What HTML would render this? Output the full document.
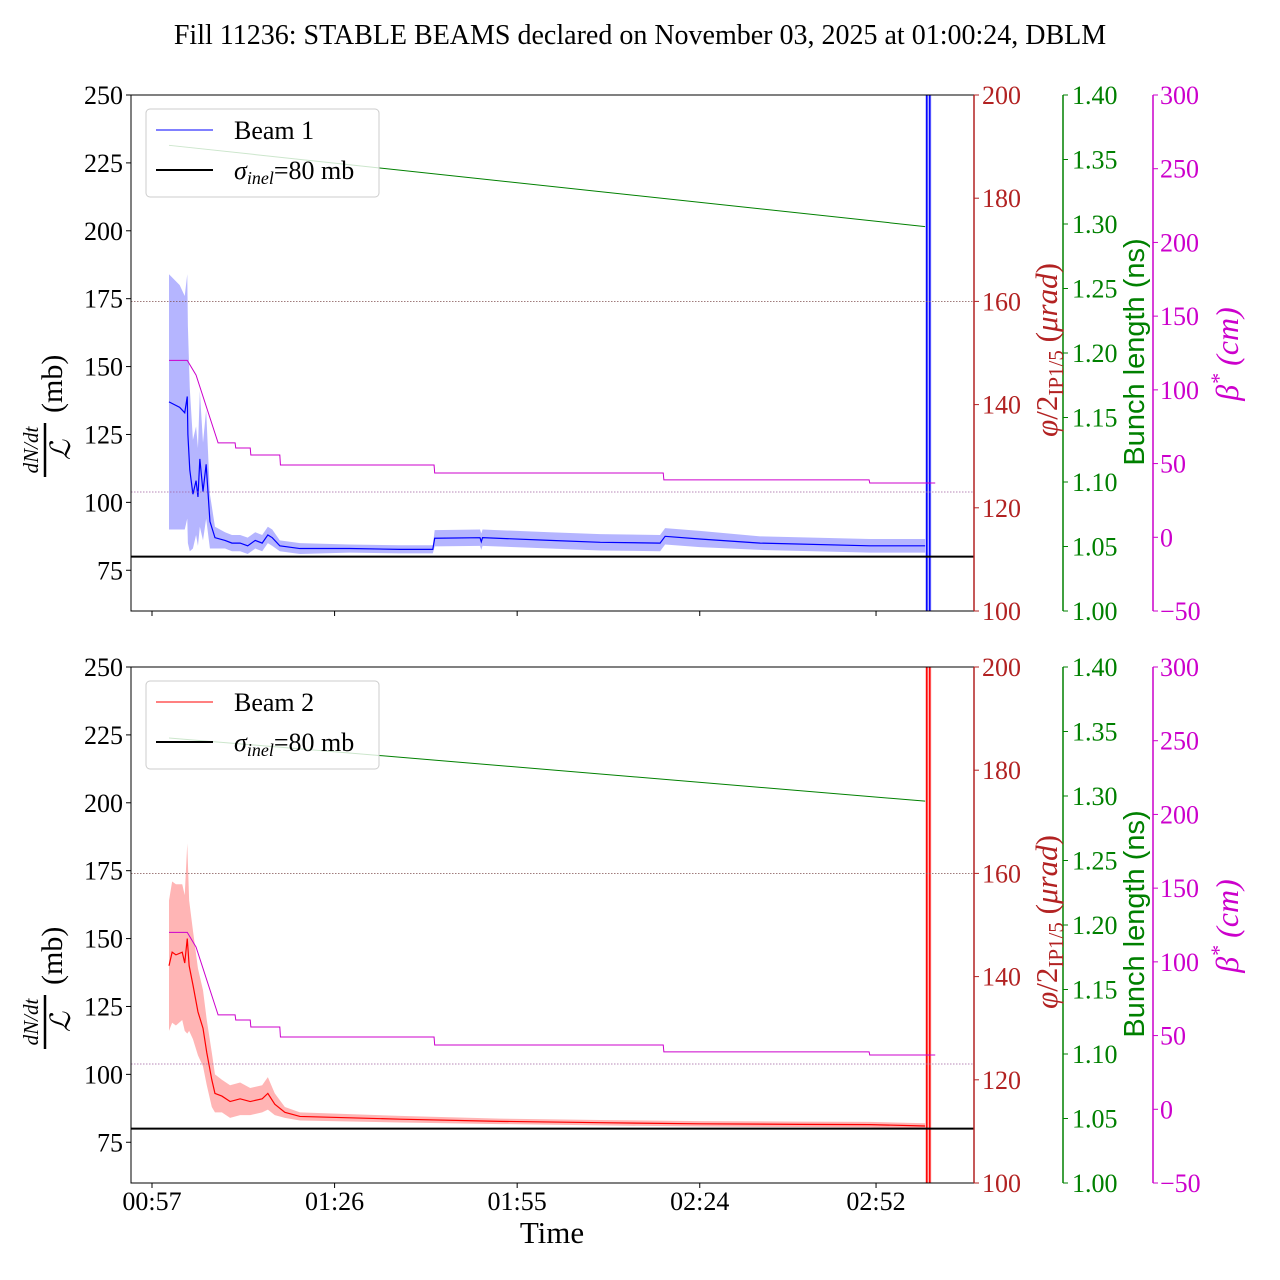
<!DOCTYPE html>
<html><head><meta charset="utf-8">
<style>
body{margin:0;background:#fff;}
svg{display:block;font-family:"Liberation Serif",serif;}
</style></head>
<body>
<svg id="chart" width="1280" height="1280" viewBox="0 0 1280 1280">
<text x="640" y="44" text-anchor="middle" font-size="28">Fill 11236: STABLE BEAMS declared on November 03, 2025 at 01:00:24, DBLM</text>
</svg>
<script>
// time in minutes since 00:00
const tickLabels = ["00:57","01:26","01:55","02:24","02:52"];
const tickTimes = [57,86,115,144,172];
const leftTicks = [75,100,125,150,175,200,225,250];
const redTicks = [100,120,140,160,180,200];
const greenTicks = [1.00,1.05,1.10,1.15,1.20,1.25,1.30,1.35,1.40];
const magTicks = [-50,0,50,100,150,200,250,300];

const b1Times = [59.7,61.4,62.2,62.6,62.7,63.0,63.5,64.0,64.3,64.6,65.1,65.6,66.2,67.0,68.6,69.7,71.0,72.2,73.4,74.5,75.4,76.1,77.3,80.5,88.4,96.4,101.6,101.9,109.1,109.3,109.5,120.2,128.2,137.7,138.5,144.0,153.6,171.0,179.8];
const b1Vals  = [137,135,133,139,125,112,103,108,102,116,104,114,93,87,86,85,85,84,86,85,88,87,84,83,83,82.7,82.7,86.8,87,85.5,87,86,85.3,85,87.5,86.5,85,84,84];
const b1Err   = [47,45,43,45,40,30,20,20,18,25,18,20,10,4,3,3,3,3,3,3,3,3,2,2,1.5,1.5,1.5,3,3,3,3,3,3,3,3,3,2.5,2.5,2.5];
const b2Times = [59.7,60.2,60.8,61.8,62.2,62.6,62.9,63.5,64.3,65.1,65.7,66.5,67.0,68.1,69.4,71.0,72.6,74.5,75.4,76.5,78.1,80.5,96.4,112.3,128.2,144.0,159.9,171.0,179.8];
const b2Vals  = [140,145,144,145,141,150,140,133,123,117,108,98,93,92,90,91,90,91,93,89,86,84.5,83.5,82.7,82.2,81.8,81.6,81.5,81];
const b2Err   = [24,26,26,25,25,35,24,20,16,14,12,10,7,6,6,6,5,5,6,4,2,1.5,1.2,1,1,1,1,1,1];
const bunchT1 = [59.7,179.8]; const bunchV1=[1.361,1.298];
const bunchT2 = [59.7,179.8]; const bunchV2=[1.345,1.296];
const betaTimes = [59.7,62.6,64.0,67.5,67.6,70.2,70.3,72.6,72.7,77.3,77.4,101.8,101.9,138.2,138.3,170.9,171.0,181.4];
const betaVals  = [120,120,110,64,64,64,60.6,60.6,55.8,55.8,49,49,43.6,43.6,38.9,38.9,36.8,36.8];
const spikeTime = 180.3;

const NS="http://www.w3.org/2000/svg";
const svg=document.getElementById('chart');
const X0=131,X1=974;
const xs=t=>152+(t-57)*6.296;
function el(tag,attrs,parent){const e=document.createElementNS(NS,tag);for(const k in attrs)e.setAttribute(k,attrs[k]);(parent||svg).appendChild(e);return e;}

function panel(top,beam){
  const bot=top+516;
  const g=el('g',{});
  
  
  const yl=v=>bot-(v-60)*516/190;
  const yr=v=>bot-(v-100)*5.16;
  const yg=v=>bot-(v-1.0)*1290;
  const ym=v=>bot-(v+50)*516/350;
  const color=beam==1?'#0000ff':'#ff0000';
  const fill=beam==1?'rgba(60,60,255,0.38)':'rgba(255,60,60,0.38)';
  const times=beam==1?b1Times:b2Times, vals=beam==1?b1Vals:b2Vals, err=beam==1?b1Err:b2Err;
  let d='';times.forEach((t,i)=>{d+=(i?'L':'M')+xs(t)+','+yl(vals[i]+err[i]);});
  for(let i=times.length-1;i>=0;i--)d+='L'+xs(times[i])+','+yl(vals[i]-err[i]);
  const band=el('path',{d:d+'Z',fill:fill,stroke:'none'},g);
  
  
  const line=el('polyline',{points:times.map((t,i)=>xs(t)+','+yl(vals[i])).join(' '),fill:'none',stroke:color,'stroke-width':1.2},g);
  
  
  const sx=xs(spikeTime);
  el('rect',{x:sx-3,y:top,width:6,height:516,fill:fill},g);
  el('line',{x1:sx-1.5,y1:top,x2:sx-1.5,y2:bot,stroke:color,'stroke-width':1.5},g);
  el('line',{x1:sx+1.5,y1:top,x2:sx+1.5,y2:bot,stroke:color,'stroke-width':1.5},g);
  el('line',{x1:X0,y1:yr(160),x2:X1,y2:yr(160),stroke:'#805050','stroke-width':0.8,'stroke-dasharray':'1.5,1.5'},g);
  el('line',{x1:X0,y1:ym(30.7),x2:X1,y2:ym(30.7),stroke:'#a060a0','stroke-width':0.8,'stroke-dasharray':'1.5,1.5'},g);
  const hl=el('line',{x1:X0,y1:yl(80),x2:X1,y2:yl(80),stroke:'#000','stroke-width':2},g);
  
  
  const bt=beam==1?bunchT1:bunchT2, bv=beam==1?bunchV1:bunchV2;
  const gl=el('polyline',{points:bt.map((t,i)=>xs(t)+','+yg(bv[i])).join(' '),fill:'none',stroke:'#008000','stroke-width':1},g);
  
  
  const ml=el('polyline',{points:betaTimes.map((t,i)=>xs(t)+','+ym(betaVals[i])).join(' '),fill:'none',stroke:'#cc00cc','stroke-width':1},g);
  
  
  el('rect',{x:X0,y:top,width:X1-X0,height:516,fill:'none',stroke:'#000','stroke-width':1},g);
  leftTicks.forEach(v=>{const y=yl(v);el('line',{x1:X0-5,y1:y,x2:X0,y2:y,stroke:'#000'},g);
    const t=el('text',{x:X0-8,y:y+9,'text-anchor':'end','font-size':26},g);t.textContent=v;});
  el('line',{x1:X1,y1:top,x2:X1,y2:bot,stroke:'#b22222','stroke-width':1.5},g);
  redTicks.forEach(v=>{const y=yr(v);el('line',{x1:X1,y1:y,x2:X1+5,y2:y,stroke:'#b22222'},g);
    const t=el('text',{x:X1+8,y:y+9,'font-size':26,fill:'#b22222'},g);t.textContent=v;});
  const GX=1063;
  el('line',{x1:GX,y1:top,x2:GX,y2:bot,stroke:'#008000','stroke-width':1.5},g);
  greenTicks.forEach(v=>{const y=yg(v);el('line',{x1:GX,y1:y,x2:GX+5,y2:y,stroke:'#008000'},g);
    const t=el('text',{x:GX+9,y:y+9,'font-size':26,fill:'#008000'},g);t.textContent=v.toFixed(2);});
  const MX=1153;
  el('line',{x1:MX,y1:top,x2:MX,y2:bot,stroke:'#cc00cc','stroke-width':1.5},g);
  magTicks.forEach(v=>{const y=ym(v);el('line',{x1:MX,y1:y,x2:MX+5,y2:y,stroke:'#cc00cc'},g);
    const t=el('text',{x:MX+7,y:y+9,'font-size':26,fill:'#cc00cc'},g);t.textContent=v<0?'\u2212'+(-v):v;});
  tickTimes.forEach((tt,i)=>{const x=xs(tt);el('line',{x1:x,y1:bot,x2:x,y2:bot+5,stroke:'#000'},g);
    if(beam==2){const t=el('text',{x:x,y:bot+27,'text-anchor':'middle','font-size':26},g);t.textContent=tickLabels[i];}});
  const cy=top+330;
  const lt=el('g',{transform:`translate(58,${cy}) rotate(-90)`},g);
  
  
  el('text',{x:-25,y:-20,'text-anchor':'middle','font-size':21,'font-style':'italic'},lt).textContent='dN/dt';
  el('line',{x1:-52,y1:-13,x2:2,y2:-13,stroke:'#000','stroke-width':2.5},lt);
  el('text',{x:-25,y:12,'text-anchor':'middle','font-size':28,'font-style':'italic'},lt).textContent='\u2112';
  el('text',{x:12,y:4,'font-size':30},lt).textContent='(mb)';
  const rt=el('text',{transform:`translate(1057,${top+255}) rotate(-90)`,'text-anchor':'middle','font-size':31,fill:'#b22222'},g);
  
  
  rt.innerHTML='<tspan font-style="italic">\u03c6</tspan>/2<tspan font-size="21" dy="6">IP1/5</tspan><tspan dy="-6"> (</tspan><tspan font-style="italic">\u03bcrad</tspan>)';
  const gt=el('text',{transform:`translate(1144,${top+257}) rotate(-90)`,'text-anchor':'middle','font-size':29,fill:'#008000','font-family':'Liberation Sans, sans-serif'},g);
  
  
  gt.textContent='Bunch length (ns)';
  const mt=el('text',{transform:`translate(1238,${top+259}) rotate(-90)`,'text-anchor':'middle','font-size':32,fill:'#cc00cc','font-style':'italic'},g);
  
  
  mt.innerHTML='\u03b2<tspan dy="-12" font-size="22">*</tspan><tspan dy="12"> (cm)</tspan>';
  const lg=el('g',{},g);
  
  
  el('rect',{x:146,y:top+14,width:233,height:88,rx:4,fill:'#fff','fill-opacity':0.8,stroke:'#ccc'},lg);
  el('line',{x1:156,y1:top+35,x2:213,y2:top+35,stroke:color,'stroke-width':1},lg);
  el('text',{x:234,y:top+44,'font-size':26},lg).textContent='Beam '+beam;
  el('line',{x1:156,y1:top+75,x2:213,y2:top+75,stroke:'#000','stroke-width':2},lg);
  const st=el('text',{x:234,y:top+84,'font-size':26},lg);
  st.innerHTML='<tspan font-style="italic">\u03c3</tspan><tspan font-style="italic" font-size="18" dy="5">inel</tspan><tspan dy="-5">=80 mb</tspan>';
}
panel(95,1);
panel(667,2);
const xt=el('text',{x:552,y:1243,'text-anchor':'middle','font-size':31});


xt.textContent='Time';
</script>
</body></html>
